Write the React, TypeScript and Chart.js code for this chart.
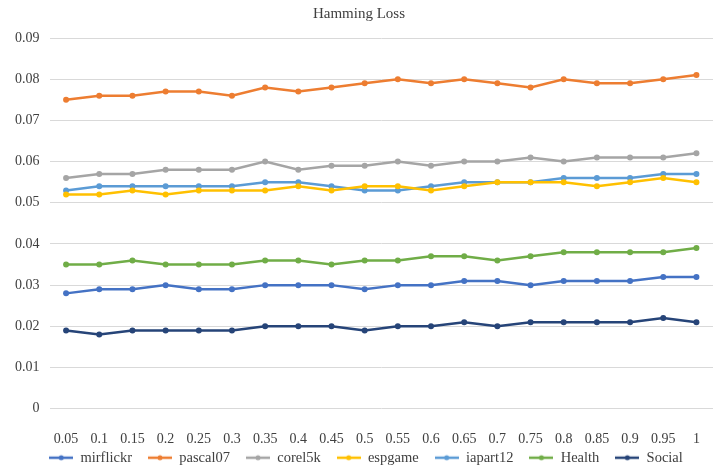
import React, { useEffect, useRef } from "react";
import { Chart, registerables } from "chart.js";

Chart.register(...registerables);

const categories = ["0.05", "0.1", "0.15", "0.2", "0.25", "0.3", "0.35", "0.4", "0.45", "0.5", "0.55", "0.6", "0.65", "0.7", "0.75", "0.8", "0.85", "0.9", "0.95", "1"];

const mirflickr = [0.028, 0.029, 0.029, 0.030, 0.029, 0.029, 0.030, 0.030, 0.030, 0.029, 0.030, 0.030, 0.031, 0.031, 0.030, 0.031, 0.031, 0.031, 0.032, 0.032];
const pascal07 = [0.075, 0.076, 0.076, 0.077, 0.077, 0.076, 0.078, 0.077, 0.078, 0.079, 0.080, 0.079, 0.080, 0.079, 0.078, 0.080, 0.079, 0.079, 0.080, 0.081];
const corel5k = [0.056, 0.057, 0.057, 0.058, 0.058, 0.058, 0.060, 0.058, 0.059, 0.059, 0.060, 0.059, 0.060, 0.060, 0.061, 0.060, 0.061, 0.061, 0.061, 0.062];
const espgame = [0.052, 0.052, 0.053, 0.052, 0.053, 0.053, 0.053, 0.054, 0.053, 0.054, 0.054, 0.053, 0.054, 0.055, 0.055, 0.055, 0.054, 0.055, 0.056, 0.055];
const iapart12 = [0.053, 0.054, 0.054, 0.054, 0.054, 0.054, 0.055, 0.055, 0.054, 0.053, 0.053, 0.054, 0.055, 0.055, 0.055, 0.056, 0.056, 0.056, 0.057, 0.057];
const health = [0.035, 0.035, 0.036, 0.035, 0.035, 0.035, 0.036, 0.036, 0.035, 0.036, 0.036, 0.037, 0.037, 0.036, 0.037, 0.038, 0.038, 0.038, 0.038, 0.039];
const social = [0.019, 0.018, 0.019, 0.019, 0.019, 0.019, 0.020, 0.020, 0.020, 0.019, 0.020, 0.020, 0.021, 0.020, 0.021, 0.021, 0.021, 0.021, 0.022, 0.021];

const seriesNames = ["mirflickr", "pascal07", "corel5k", "espgame", "iapart12", "Health", "Social"];
const seriesValues = [mirflickr, pascal07, corel5k, espgame, iapart12, health, social];
const seriesColors = ["#4472C4", "#ED7D31", "#A5A5A5", "#FFC000", "#5B9BD5", "#70AD47", "#264478"];

const FONT = "'Liberation Serif', 'Times New Roman', serif";
const TEXT = "#404040";

function legendIcon(color: string): HTMLCanvasElement {
  const c = document.createElement("canvas");
  c.width = 24;
  c.height = 8;
  const ctx = c.getContext("2d")!;
  ctx.strokeStyle = color;
  ctx.lineWidth = 2.5;
  ctx.beginPath();
  ctx.moveTo(0, 4);
  ctx.lineTo(24, 4);
  ctx.stroke();
  ctx.fillStyle = color;
  ctx.beginPath();
  ctx.arc(12, 4, 2.5, 0, Math.PI * 2);
  ctx.fill();
  return c;
}

// Tightens the vertical space the legend takes while keeping its horizontal item gaps.
const legendTweak = {
  id: "legendTweak",
  afterInit(chart: any) {
    const lg = chart.legend;
    if (!lg) return;
    const fit = lg.fit.bind(lg);
    lg.fit = function () {
      fit();
      this.height -= 16;
    };
    const draw = lg.draw.bind(lg);
    lg.draw = function () {
      const t = this.top;
      const l = this.left;
      const r = this.right;
      this.top -= 13;
      this.left += 7;
      this.right += 7;
      draw();
      this.top = t;
      this.left = l;
      this.right = r;
    };
  },
};

export default function App() {
  const ref = useRef<HTMLCanvasElement>(null);

  useEffect(() => {
    document.body.style.margin = "0";
    const icons = seriesColors.map(legendIcon);
    const chart = new Chart(ref.current!, {
      type: "line",
      plugins: [legendTweak],
      data: {
        labels: categories,
        datasets: seriesNames.map((name, i) => ({
          label: name,
          data: seriesValues[i],
          borderColor: seriesColors[i],
          backgroundColor: seriesColors[i],
          pointBackgroundColor: seriesColors[i],
          pointBorderColor: seriesColors[i],
          borderWidth: 2.5,
          pointRadius: 3,
          pointBorderWidth: 0,
          pointStyle: "circle",
          tension: 0,
        })),
      },
      options: {
        responsive: false,
        animation: false,
        devicePixelRatio: 1,
        layout: { padding: { left: 5, right: 6, top: 2, bottom: 0 } },
        plugins: {
          title: {
            display: true,
            text: "Hamming Loss",
            color: TEXT,
            font: { family: FONT, size: 15, weight: "normal" },
            padding: { top: 3, bottom: 15 },
          },
          legend: {
            position: "bottom",
            labels: {
              usePointStyle: true,
              pointStyleWidth: 24,
              boxHeight: 8,
              padding: 16,
              color: TEXT,
              font: { family: FONT, size: 14.5 },
              generateLabels: (ch: any) =>
                ch.data.datasets.map((d: any, i: number) => ({
                  text: d.label,
                  pointStyle: icons[i],
                  fillStyle: seriesColors[i],
                  strokeStyle: seriesColors[i],
                  lineWidth: 0,
                  hidden: false,
                  datasetIndex: i,
                  fontColor: TEXT,
                })),
            },
          },
          tooltip: { enabled: false },
        },
        scales: {
          x: {
            offset: true,
            grid: { display: false, tickLength: 22 },
            border: { display: false },
            ticks: {
              color: TEXT,
              font: { family: FONT, size: 14 },
              maxRotation: 0,
              autoSkip: false,
              padding: 0,
            },
          },
          y: {
            min: 0,
            max: 0.09,
            grid: { color: "#D9D9D9", lineWidth: 1, drawTicks: false },
            border: { display: false },
            ticks: {
              stepSize: 0.01,
              color: TEXT,
              font: { family: FONT, size: 14 },
              padding: 10,
              callback: (v: any) => (Number(v) === 0 ? "0" : Number(v).toFixed(2)),
            },
          },
        },
      },
    } as any);
    return () => chart.destroy();
  }, []);

  return <canvas ref={ref} width={719} height={472} style={{ display: "block" }} />;
}
